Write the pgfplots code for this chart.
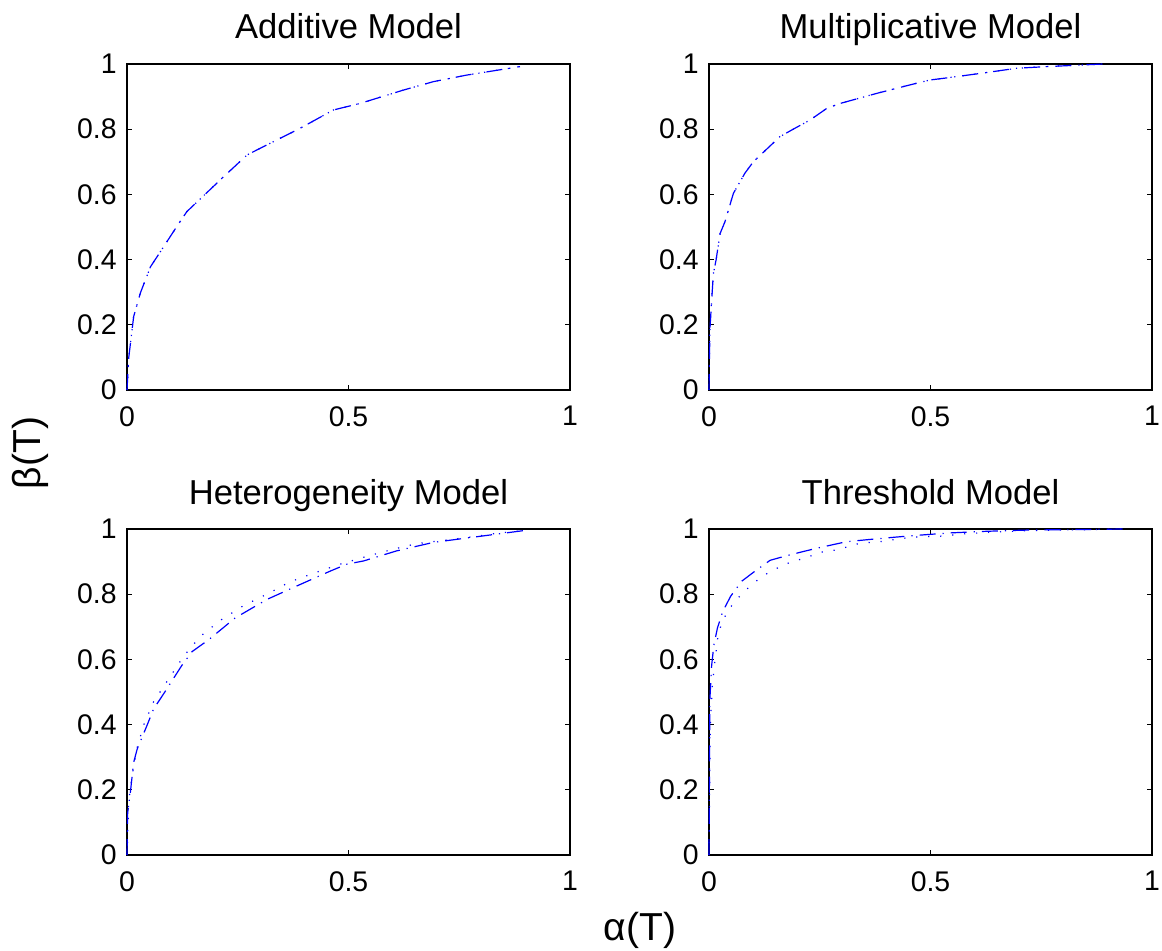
\documentclass[border=0pt]{standalone}
\usepackage{pgfplots}
\pgfplotsset{compat=1.18}
\usepackage{fontspec}
\setmainfont{Liberation Sans}
\definecolor{mblue}{RGB}{0,0,255}
\pgfplotsset{
  mstyle/.style={
    scale only axis, width=221.5pt, height=163pt,
    xmin=0, xmax=1, ymin=0, ymax=1,
    xtick={0,0.5,1}, ytick={0,0.2,0.4,0.6,0.8,1},
    tick align=inside, major tick length=2.5pt,
    axis line style={line width=0.8pt},
    every tick/.style={black, line width=0.6pt},
    /pgf/number format/assume math mode=true,
    ticklabel style={font=\fontsize{14.2pt}{16pt}\selectfont, inner sep=0pt},
    xticklabel style={anchor=north, yshift=-8pt},
    yticklabel style={anchor=east, xshift=-5pt},
    title style={font=\fontsize{17.3pt}{20pt}\selectfont, anchor=base, at={(0.5,1)}, yshift=6.5pt, inner sep=0pt},
    clip=false,
  },
  dd/.style={mblue, line width=0.6pt, dash pattern=on 8pt off 3.5pt on 0.6pt off 3.5pt},
  dt/.style={mblue, line width=0.6pt, dash pattern=on 0.6pt off 5.4pt},
}
\begin{document}
\begin{tikzpicture}
\useasboundingbox (0,0) rectangle (581pt,-475.5pt);
% Additive
\begin{axis}[mstyle, at={(63.5pt,-195pt)}, anchor=south west, title={Additive Model}]
\addplot[dt] coordinates {(0,0) (0.004,0.10) (0.015,0.225) (0.03,0.297) (0.053,0.378) (0.068,0.409) (0.117,0.511) (0.135,0.547) (0.218,0.654) (0.271,0.721) (0.316,0.752) (0.391,0.803) (0.466,0.859) (0.526,0.879) (0.624,0.920) (0.692,0.946) (0.767,0.966) (0.887,0.992)};
\addplot[dd] coordinates {(0,0) (0.004,0.10) (0.015,0.225) (0.03,0.297) (0.053,0.378) (0.068,0.409) (0.117,0.511) (0.135,0.547) (0.218,0.654) (0.271,0.721) (0.316,0.752) (0.391,0.803) (0.466,0.859) (0.526,0.879) (0.624,0.920) (0.692,0.946) (0.767,0.966) (0.887,0.992)};
\end{axis}
% Multiplicative
\begin{axis}[mstyle, at={(354.5pt,-195pt)}, anchor=south west, title={Multiplicative Model}]
\addplot[dt] coordinates {(0,0) (0.002,0.184) (0.006,0.276) (0.01,0.358) (0.016,0.399) (0.025,0.48) (0.036,0.516) (0.055,0.603) (0.081,0.665) (0.1,0.70) (0.16,0.777) (0.19,0.80) (0.228,0.828) (0.266,0.864) (0.296,0.879) (0.379,0.91) (0.454,0.936) (0.499,0.951) (0.529,0.956) (0.612,0.971) (0.695,0.987) (0.763,0.992) (0.89,1.0)};
\addplot[dd] coordinates {(0,0) (0.002,0.184) (0.006,0.276) (0.01,0.358) (0.016,0.399) (0.025,0.48) (0.036,0.516) (0.055,0.603) (0.081,0.665) (0.1,0.70) (0.16,0.777) (0.19,0.80) (0.228,0.828) (0.266,0.864) (0.296,0.879) (0.379,0.91) (0.454,0.936) (0.499,0.951) (0.529,0.956) (0.612,0.971) (0.695,0.987) (0.763,0.992) (0.89,1.0)};
\end{axis}
% Heterogeneity
\begin{axis}[mstyle, at={(63.5pt,-427.5pt)}, anchor=south west, title={Heterogeneity Model}]
\addplot[dd] coordinates {(0,0) (0.0015,0.129) (0.0075,0.191) (0.015,0.284) (0.023,0.325) (0.045,0.397) (0.06,0.448) (0.083,0.495) (0.124,0.582) (0.147,0.624) (0.184,0.66) (0.244,0.727) (0.316,0.784) (0.383,0.825) (0.459,0.871) (0.496,0.892) (0.534,0.902) (0.609,0.933) (0.692,0.959) (0.805,0.979) (0.895,0.995)};
\addplot[dt] coordinates {(0,0) (0.004,0.165) (0.011,0.24) (0.023,0.33) (0.038,0.40) (0.06,0.47) (0.094,0.54) (0.128,0.61) (0.165,0.67) (0.211,0.72) (0.263,0.765) (0.316,0.80) (0.368,0.838) (0.425,0.866) (0.481,0.892) (0.541,0.916) (0.598,0.937) (0.654,0.955) (0.714,0.965) (0.774,0.975) (0.835,0.987) (0.895,0.995)};
\end{axis}
% Threshold
\begin{axis}[mstyle, at={(354.5pt,-427.5pt)}, anchor=south west, title={Threshold Model}]
\addplot[dd] coordinates {(0,0) (0.002,0.479) (0.006,0.582) (0.011,0.644) (0.019,0.696) (0.031,0.747) (0.049,0.794) (0.074,0.84) (0.104,0.871) (0.138,0.904) (0.175,0.918) (0.213,0.931) (0.25,0.943) (0.31,0.961) (0.371,0.969) (0.454,0.979) (0.544,0.988) (0.627,0.993) (0.725,0.997) (0.816,0.998) (0.936,1.0)};
\addplot[dt] coordinates {(0,0) (0.003,0.40) (0.0075,0.52) (0.014,0.603) (0.021,0.68) (0.032,0.722) (0.047,0.758) (0.066,0.789) (0.089,0.82) (0.111,0.845) (0.134,0.866) (0.16,0.884) (0.187,0.9) (0.221,0.912) (0.247,0.928) (0.277,0.933) (0.307,0.943) (0.334,0.954) (0.364,0.959) (0.394,0.962) (0.424,0.969) (0.454,0.974) (0.485,0.977) (0.515,0.977) (0.575,0.985) (0.635,0.99) (0.725,0.995) (0.936,1.0)};
\end{axis}
\node[rotate=90, font=\fontsize{19.5pt}{22pt}\selectfont, inner sep=0pt] at (15pt,-226.5pt) {β(T)};
\node[font=\fontsize{19.5pt}{22pt}\selectfont, inner sep=0pt] at (320pt,-465pt) {α(T)};
\end{tikzpicture}
\end{document}
